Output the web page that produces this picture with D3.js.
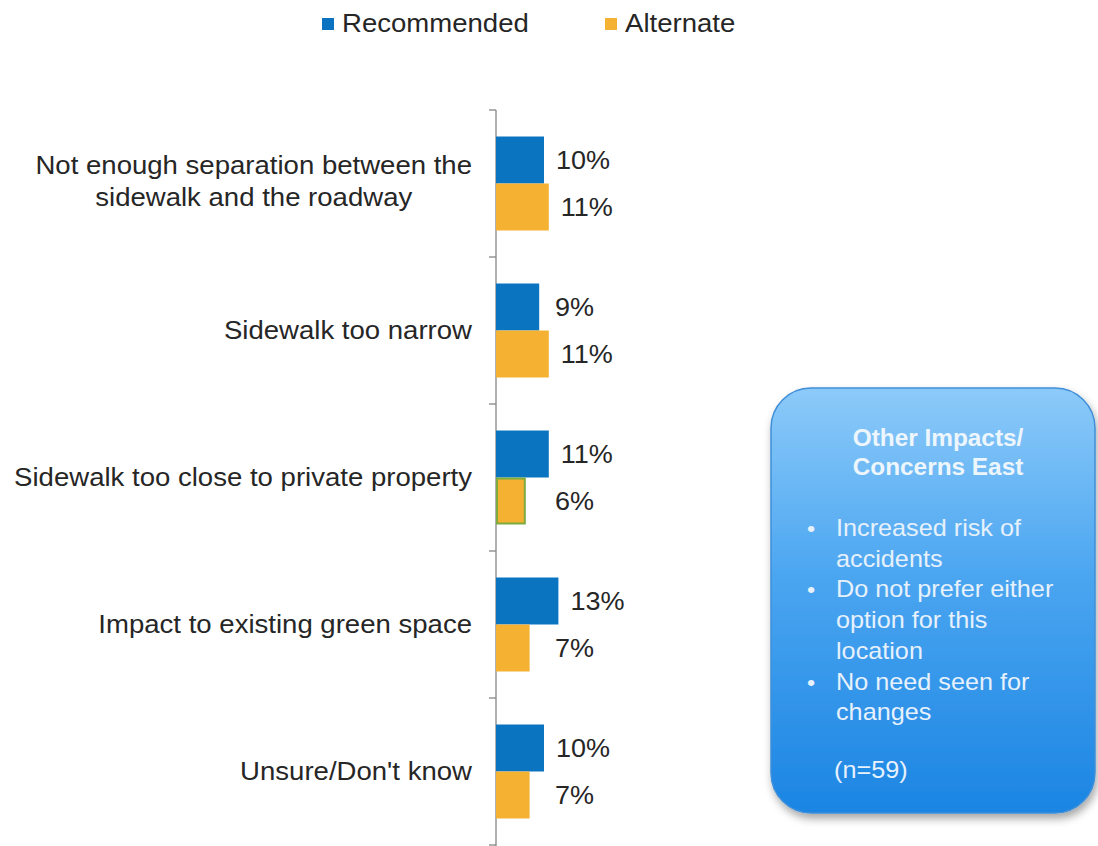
<!DOCTYPE html>
<html>
<head>
<meta charset="utf-8">
<script src="https://cdn.jsdelivr.net/npm/d3@7"></script>
<style>
  body { margin: 0; background: #fff; }
  text { font-family: "Liberation Sans", Arial, sans-serif; }
</style>
</head>
<body>
<svg width="1098" height="846"></svg>
<script>
// Data
const categories = [
    ["Not enough separation between the", "sidewalk and the roadway"],
    ["Sidewalk too narrow"],
    ["Sidewalk too close to private property"],
    ["Impact to existing green space"],
    ["Unsure/Don't know"]
];
const seriesNames = ["Recommended", "Alternate"];
const recommended = [10, 9, 11, 13, 10];
const alternate = [11, 11, 6, 7, 7];
const boxTitle = ["Other Impacts/", "Concerns East"];
const boxBullets = [
    ["Increased risk of", "accidents"],
    ["Do not prefer either", "option for this", "location"],
    ["No need seen for", "changes"]
];
const boxNote = "(n=59)";

const colors = ["#0b74c1", "#f5b132"];
const textColor = "#262626";
const stretch = 1.06; // source text is a bit wide
const svg = d3.select("svg");

// text helper: anchored at (x, y), slightly stretched horizontally
function label(parent, x, y, str, size, anchor) {
    return parent.append("text")
        .attr("transform", `translate(${x},${y}) scale(${stretch},1)`)
        .attr("text-anchor", anchor || "start")
        .attr("font-size", size)
        .text(str);
}

const axisX = 496;
const x = d3.scaleLinear().domain([0, 20]).range([axisX, axisX + 96]);
const y = d3.scaleBand()
    .domain(d3.range(categories.length))
    .range([110, 845]);
const inner = d3.scaleBand()
    .domain([0, 1])
    .range([26.5, y.bandwidth() - 26.5]);

// axis line + ticks
svg.append("line")
    .attr("x1", axisX).attr("x2", axisX)
    .attr("y1", 110).attr("y2", 846)
    .attr("stroke", "#868686").attr("stroke-width", 1.3);
const tickYs = d3.range(categories.length + 1).map(i => 110 + i * y.step());
svg.selectAll(".tick").data(tickYs).enter().append("line")
    .attr("x1", axisX - 7).attr("x2", axisX)
    .attr("y1", d => d).attr("y2", d => d)
    .attr("stroke", "#868686").attr("stroke-width", 1.3);

// bars
categories.forEach((lines, i) => {
    const g = svg.append("g").attr("transform", `translate(0,${y(i)})`);
    [recommended[i], alternate[i]].forEach((v, s) => {
        const outlined = s === 1 && v === 6;
        g.append("rect")
            .attr("x", axisX + (outlined ? 1 : 0))
            .attr("y", inner(s) + (outlined ? 1 : 0))
            .attr("width", x(v) - axisX - (outlined ? 1 : 0))
            .attr("height", inner.bandwidth() - (outlined ? 2 : 0))
            .attr("fill", colors[s])
            .attr("stroke", outlined ? "#7dab3c" : "none")
            .attr("stroke-width", 2);
        label(g, Math.max(x(v) + 12, 555), inner(s) + inner.bandwidth() / 2 + 9, v + "%", 25.5)
            .attr("fill", textColor);
    });

    // category label
    const mid = y.bandwidth() / 2;
    if (lines.length === 1) {
        label(g, 472, mid + 8, lines[0], 26, "end").attr("fill", textColor);
    } else {
        const probe = label(g, 0, 0, lines[0], 26);
        const w = probe.node().getComputedTextLength() * stretch;
        probe.remove();
        lines.forEach((ln, k) => {
            label(g, 472 - w / 2, mid + 6 + (k - (lines.length - 1) / 2) * 32, ln, 26, "middle")
                .attr("fill", textColor);
        });
    }
});

// legend
const legendPos = [322, 605];
seriesNames.forEach((n, i) => {
    svg.append("rect")
        .attr("x", legendPos[i]).attr("y", 18)
        .attr("width", 12).attr("height", 12)
        .attr("fill", colors[i]);
    label(svg, legendPos[i] + 20, 32, n, 26).attr("fill", textColor);
});

// callout box
const defs = svg.append("defs");
const grad = defs.append("linearGradient")
    .attr("id", "boxGrad").attr("x1", 0).attr("y1", 0).attr("x2", 0).attr("y2", 1);
grad.append("stop").attr("offset", "0%").attr("stop-color", "#8ccaf9");
grad.append("stop").attr("offset", "45%").attr("stop-color", "#4aa5f0");
grad.append("stop").attr("offset", "100%").attr("stop-color", "#1b85e3");
const filt = defs.append("filter").attr("id", "shadow")
    .attr("x", "-10%").attr("y", "-10%").attr("width", "130%").attr("height", "130%");
filt.append("feDropShadow")
    .attr("dx", 2).attr("dy", 5).attr("stdDeviation", 4)
    .attr("flood-color", "#000").attr("flood-opacity", 0.35);

const bx = 771, by = 388, bw = 324, bh = 425;
svg.append("rect")
    .attr("x", bx).attr("y", by).attr("width", bw).attr("height", bh)
    .attr("rx", 40).attr("ry", 40)
    .attr("fill", "url(#boxGrad)")
    .attr("stroke", "#3f8fd8").attr("stroke-width", 1.5)
    .attr("filter", "url(#shadow)");

boxTitle.forEach((t, i) => {
    label(svg, 938, 446 + i * 29, t, 23, "middle")
        .attr("font-weight", "bold")
        .attr("fill", "#eef6fd");
});

let ly = 536;
boxBullets.forEach(b => {
    label(svg, 807, ly, "•", 22).attr("fill", "#e6f1fc");
    b.forEach(ln => {
        label(svg, 836, ly, ln, 23.8).attr("fill", "#e6f1fc");
        ly += 30.7;
    });
});
label(svg, 834, 778, boxNote, 23.8).attr("fill", "#e6f1fc");
</script>
</body>
</html>
